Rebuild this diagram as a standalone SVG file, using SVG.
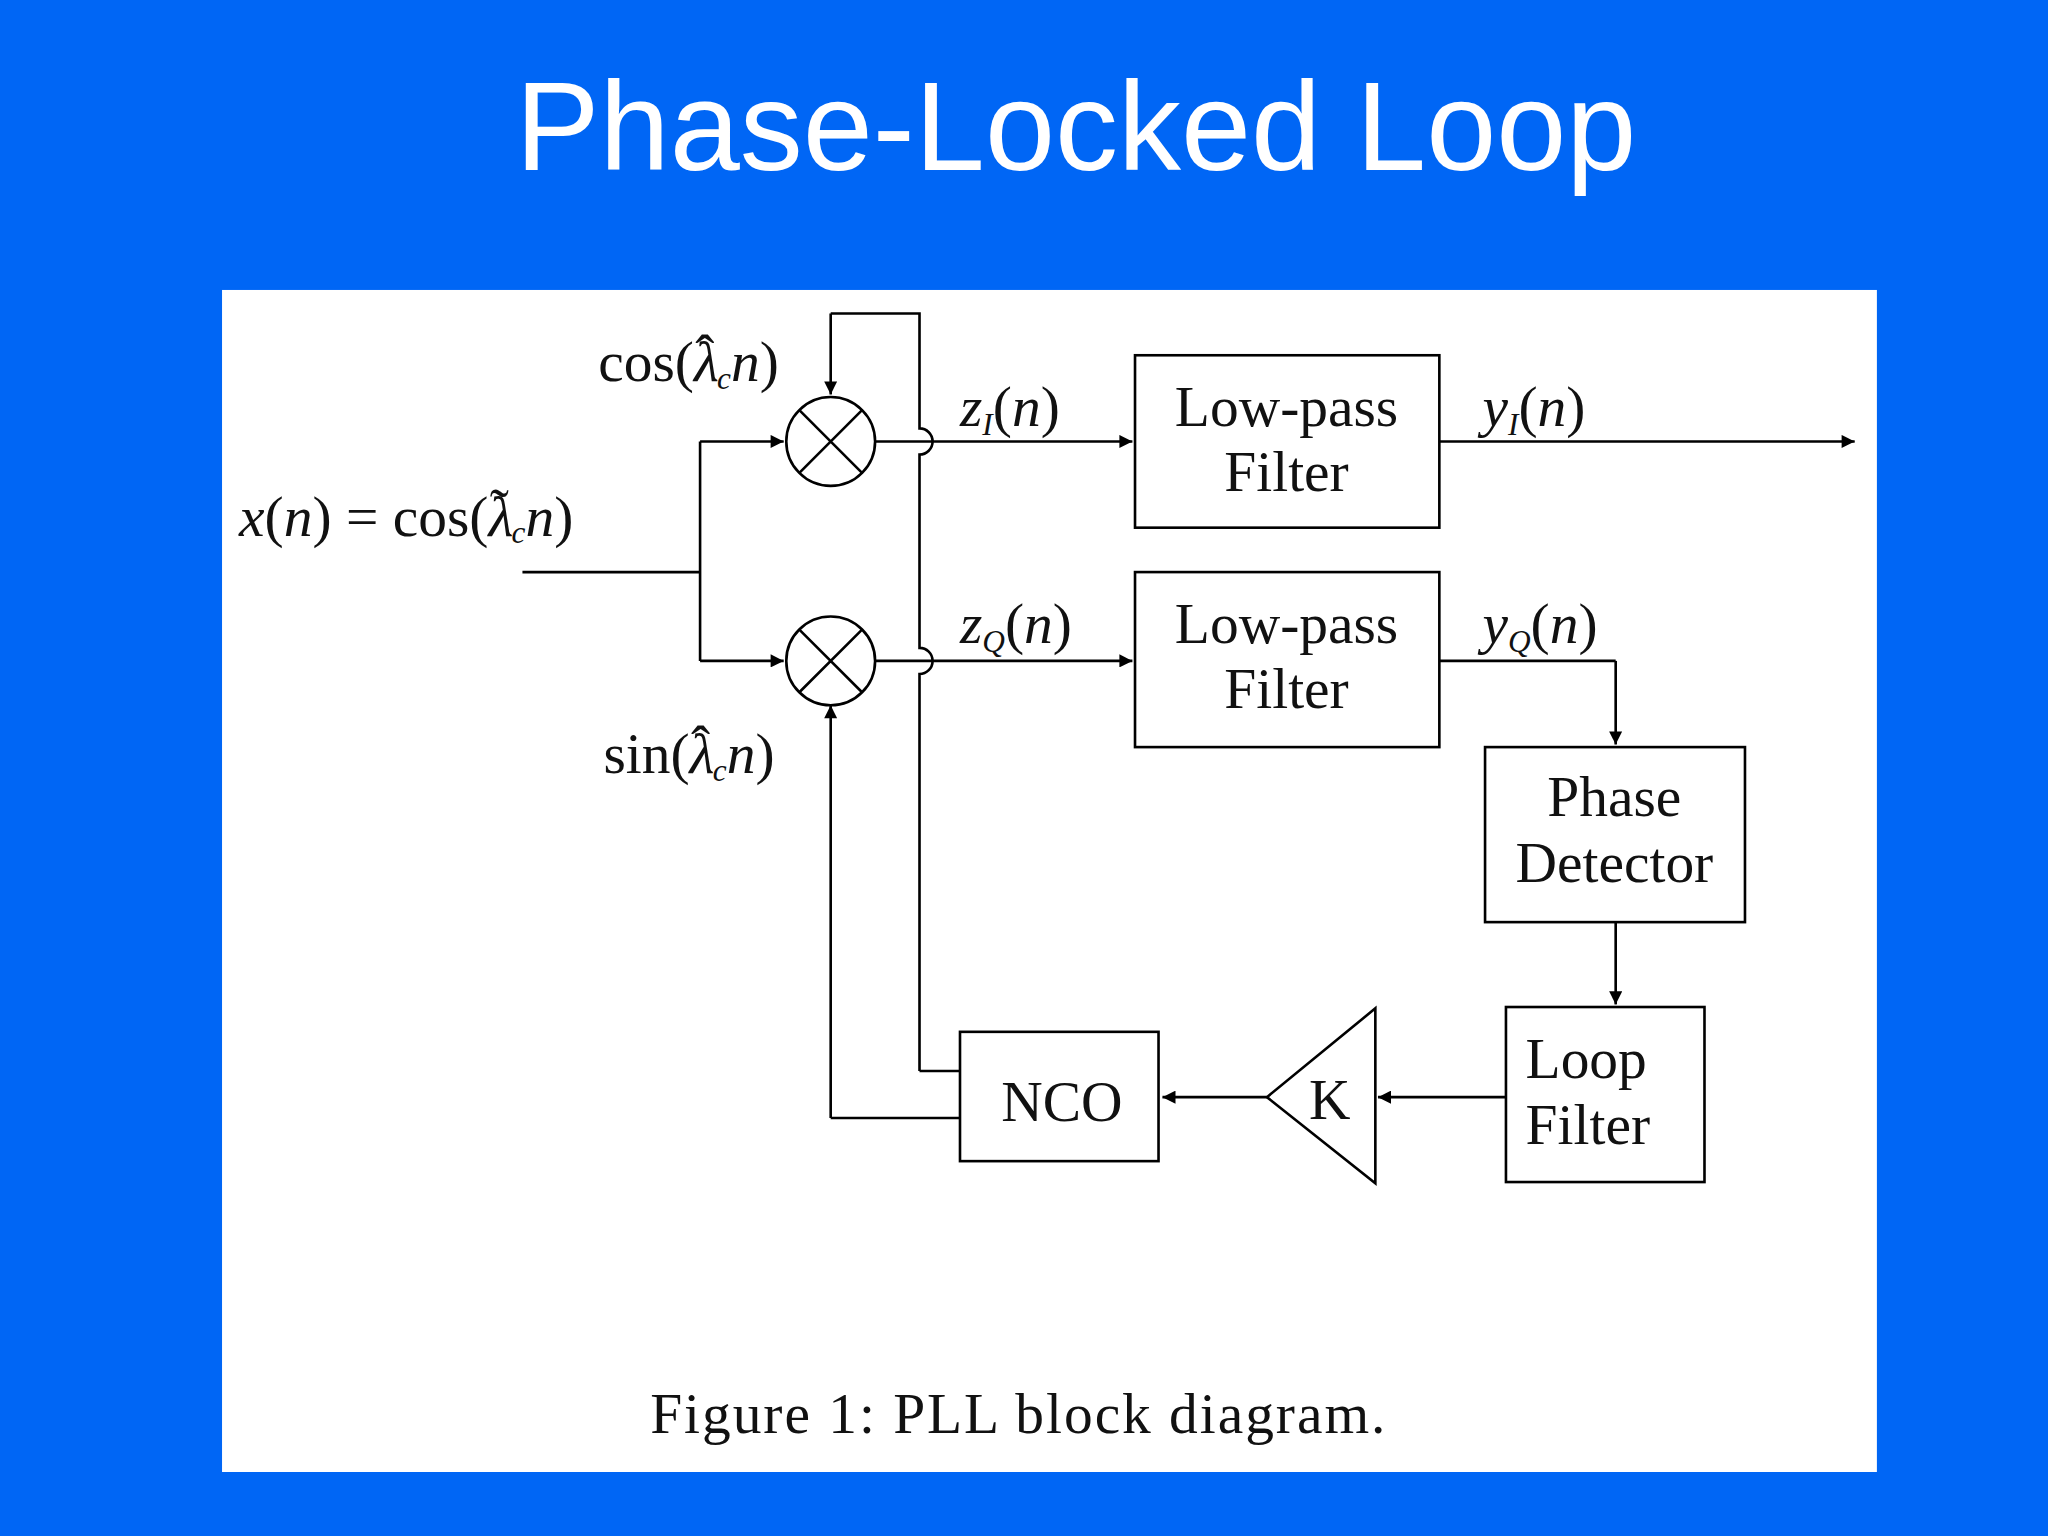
<svg xmlns="http://www.w3.org/2000/svg" width="2048" height="1536" viewBox="0 0 2048 1536">
<defs>
<marker id="ah" viewBox="0 0 10 10" refX="10" refY="5" markerWidth="16" markerHeight="10" markerUnits="userSpaceOnUse" orient="auto"><path d="M0,0 L10,5 L0,10 z" fill="#000"/></marker>
<style>
.l{fill:none;stroke:#000;stroke-width:2}
.a{fill:none;stroke:#000;stroke-width:2;marker-end:url(#ah)}
.b{fill:#fff;stroke:#000;stroke-width:2}
.t{font-family:"Liberation Serif",serif;font-size:44px;fill:#111}
.m{font-family:"Liberation Serif",serif;font-style:italic}
.s{font-family:"Liberation Serif",serif;font-style:italic;font-size:24px}
</style>
</defs>
<rect width="2048" height="1536" fill="#0066F5"/>
<text x="1076" y="170" text-anchor="middle" font-family="Liberation Sans, Arial, sans-serif" font-size="126" fill="#fff">Phase-Locked Loop</text>
<g transform="scale(1.30612)">
<rect x="170" y="222" width="1267" height="905" fill="#fff"/>
<g id="connectors">
<path class="l" d="M400,438 H536 M536,338 V506"/>
<path class="a" d="M536,338 H600"/>
<path class="a" d="M536,506 H600"/>
<path class="l" d="M704,820 V516 A10,10 0 0 0 704,496 V348 A10,10 0 0 0 704,328 V240 H636"/>
<path class="a" d="M636,240 V302"/>
<path class="l" d="M704,820 H735"/>
<path class="l" d="M735,856 H636"/>
<path class="a" d="M636,856 V540"/>
<path class="a" d="M670,338 H867"/>
<path class="a" d="M670,506 H867"/>
<path class="a" d="M1102,338 H1420"/>
<path class="l" d="M1102,506 H1237"/>
<path class="a" d="M1237,506 V570"/>
<path class="a" d="M1237,706 V769"/>
<path class="a" d="M1153,840 H1055"/>
<path class="a" d="M970,840 H890"/>
</g>
<g id="mixI"><circle class="b" cx="636" cy="338" r="34"/><path class="l" d="M612,314 L660,362 M660,314 L612,362"/></g>
<g id="mixQ"><circle class="b" cx="636" cy="506" r="34"/><path class="l" d="M612,482 L660,530 M660,482 L612,530"/></g>
<g id="lpf1"><rect class="b" x="869" y="272" width="233" height="132"/><text class="t" x="985" y="326" text-anchor="middle">Low-pass</text><text class="t" x="985" y="376" text-anchor="middle">Filter</text></g>
<g id="lpf2"><rect class="b" x="869" y="438" width="233" height="134"/><text class="t" x="985" y="492" text-anchor="middle">Low-pass</text><text class="t" x="985" y="542" text-anchor="middle">Filter</text></g>
<g id="pd"><rect class="b" x="1137" y="572" width="199" height="134"/><text class="t" x="1236" y="625" text-anchor="middle">Phase</text><text class="t" x="1236" y="675" text-anchor="middle">Detector</text></g>
<g id="lf"><rect class="b" x="1153" y="771" width="152" height="134"/><text class="t" x="1168" y="825">Loop</text><text class="t" x="1168" y="876">Filter</text></g>
<g id="k"><path class="b" d="M970,840 L1053,772 L1053,906 Z"/><text class="t" x="1018" y="857" text-anchor="middle">K</text></g>
<g id="nco"><rect class="b" x="735" y="790" width="152" height="99"/><text class="t" x="813" y="858" text-anchor="middle">NCO</text></g>
<g id="labels">
<text class="t" x="183" y="410"><tspan class="m">x</tspan>(<tspan class="m">n</tspan>) = cos(<tspan class="m">λ</tspan><tspan dx="-18" dy="-6">˜</tspan><tspan class="s" dx="2" dy="12">c</tspan><tspan class="m" dy="-6">n</tspan>)</text>
<text class="t" x="458" y="292">cos(<tspan class="m">λ</tspan><tspan dx="-18" dy="-6">ˆ</tspan><tspan class="s" dx="2" dy="12">c</tspan><tspan class="m" dy="-6">n</tspan>)</text>
<text class="t" x="462" y="592">sin(<tspan class="m">λ</tspan><tspan dx="-18" dy="-6">ˆ</tspan><tspan class="s" dx="2" dy="12">c</tspan><tspan class="m" dy="-6">n</tspan>)</text>
<text class="t" x="735" y="326"><tspan class="m">z</tspan><tspan class="s" dy="7">I</tspan><tspan dy="-7">(</tspan><tspan class="m">n</tspan>)</text>
<text class="t" x="735" y="492"><tspan class="m">z</tspan><tspan class="s" dy="7">Q</tspan><tspan dy="-7">(</tspan><tspan class="m">n</tspan>)</text>
<text class="t" x="1135" y="326"><tspan class="m">y</tspan><tspan class="s" dy="7">I</tspan><tspan dy="-7">(</tspan><tspan class="m">n</tspan>)</text>
<text class="t" x="1135" y="492"><tspan class="m">y</tspan><tspan class="s" dy="7">Q</tspan><tspan dy="-7">(</tspan><tspan class="m">n</tspan>)</text>
<text class="t" x="780" y="1097" text-anchor="middle" font-size="50" letter-spacing="1.5">Figure 1: PLL block diagram.</text>
</g>
</g>
</svg>
